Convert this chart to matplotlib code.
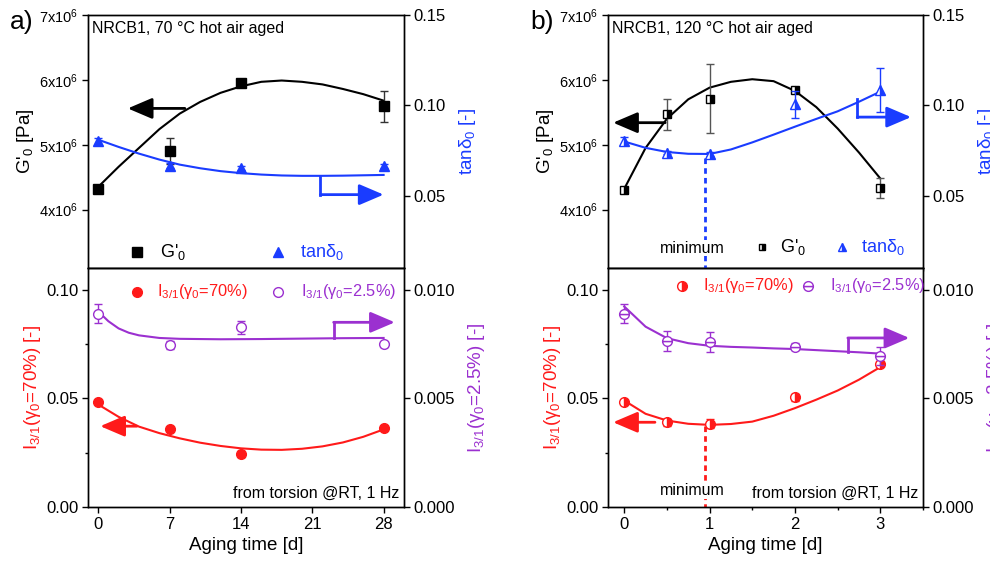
import matplotlib
matplotlib.use("Agg")
import matplotlib.pyplot as plt
from matplotlib.ticker import FixedLocator, MultipleLocator

plt.rcParams['font.family'] = ['Liberation Sans', 'DejaVu Sans']
plt.rcParams['mathtext.fontset'] = 'custom'
plt.rcParams['mathtext.rm'] = 'Liberation Sans'
plt.rcParams['mathtext.it'] = 'Liberation Sans:italic'
plt.rcParams['mathtext.bf'] = 'Liberation Sans:bold'
plt.rcParams['axes.linewidth'] = 1.0

# ---------------- data: panel a (70 °C) ----------------
a_days = [0, 7, 14, 28]
a_G = [4.32e6, 4.91e6, 5.95e6, 5.59e6]
a_G_err = [0.05e6, 0.20e6, 0.03e6, 0.24e6]
a_tan = [0.0800, 0.0667, 0.0652, 0.0663]
a_tan_err = [0.002, 0.0015, 0.001, 0.001]
a_I70 = [0.0483, 0.0361, 0.0244, 0.0363]
a_I70_err = [0.001, 0.0008, 0.0015, 0.0008]
a_I25 = [0.00889, 0.00745, 0.00827, 0.00748]
a_I25_err = [0.00044, 0.0002, 0.0003, 0.0001]

# fitted curves
a_fit_x = [0, 2, 4, 6, 8, 10, 12, 14, 16, 18, 20, 22, 24, 26, 28]
a_fit_G = [4.35e6, 4.66e6, 4.95e6, 5.24e6, 5.48e6, 5.66e6, 5.80e6, 5.90e6,
           5.97e6, 5.99e6, 5.97e6, 5.93e6, 5.86e6, 5.78e6, 5.68e6]
a_fit_tan = [0.0810, 0.0770, 0.0733, 0.0700, 0.0672, 0.0652, 0.0636, 0.0625,
             0.0617, 0.0612, 0.0610, 0.0610, 0.0611, 0.0613, 0.0615]
a_fit_I70 = [0.0472, 0.0415, 0.0370, 0.0340, 0.0316, 0.0296, 0.0281, 0.0270,
             0.0264, 0.0263, 0.0268, 0.0279, 0.0297, 0.0323, 0.0357]
a_fit_x25 = [0, 1, 2, 3, 4, 6, 8, 12, 16, 20, 24, 28]
a_fit_I25 = [0.00900, 0.00855, 0.00822, 0.00802, 0.00790, 0.00778, 0.00774,
             0.00772, 0.00773, 0.00775, 0.00777, 0.00778]

# ---------------- data: panel b (120 °C) ----------------
b_days = [0, 0.5, 1, 2, 3]
b_G = [4.30e6, 5.47e6, 5.71e6, 5.85e6, 4.33e6]
b_G_err = [0.04e6, 0.24e6, 0.53e6, 0.03e6, 0.15e6]
b_tan = [0.0803, 0.0739, 0.0730, 0.1005, 0.1085]
b_tan_err = [0.002, 0.001, 0.001, 0.0075, 0.012]
b_I70 = [0.0482, 0.0390, 0.0384, 0.0505, 0.0659]
b_I70_err = [0.0008, 0.0015, 0.002, 0.0015, 0.0008]
b_I25 = [0.00889, 0.00766, 0.00758, 0.00738, 0.00696]
b_I25_err = [0.00044, 0.00046, 0.00046, 0.00017, 0.00042]

b_fit_x = [0, 0.25, 0.5, 0.75, 1, 1.25, 1.5, 1.75, 2, 2.25, 2.5, 2.75, 3]
b_fit_G = [4.32e6, 4.95e6, 5.40e6, 5.70e6, 5.88e6, 5.97e6, 6.01e6, 5.98e6,
           5.83e6, 5.58e6, 5.25e6, 4.88e6, 4.48e6]
b_fit_tan = [0.0800, 0.0765, 0.0742, 0.0732, 0.0731, 0.0756, 0.0795, 0.0838,
             0.0882, 0.0925, 0.0967, 0.1020, 0.1076]
b_fit_I70 = [0.0490, 0.0429, 0.0398, 0.0383, 0.0378, 0.0382, 0.0393, 0.0420,
             0.0455, 0.0494, 0.0536, 0.0586, 0.0644]
b_fit_I25 = [0.00923, 0.00830, 0.00777, 0.00754, 0.00742, 0.00737, 0.00734,
             0.00730, 0.00727, 0.00722, 0.00717, 0.00712, 0.00706]

a_xticks = [0, 7, 14, 21, 28]
b_xticks = [0, 1, 2, 3]
G_ticks = [4e6, 5e6, 6e6, 7e6]
G_ticklabels = [r'4x10$^6$', r'5x10$^6$', r'6x10$^6$', r'7x10$^6$']
tan_ticks = [0.05, 0.10, 0.15]
I70_ticks = [0.00, 0.05, 0.10]
I25_ticks = [0.000, 0.005, 0.010]

BLUE = '#1a3cff'
RED = '#ff1a1a'
PURPLE = '#9b30d0'
GRAY = '#555555'

fig = plt.figure(figsize=(9.9, 5.63), dpi=100)


def px(x0, x1):
    return x0 / 990, (x1 - x0) / 990


def arrow(ax, start, end, color):
    ax.annotate('', xy=end, xytext=start,
                arrowprops=dict(arrowstyle='-|>,head_length=0.75,head_width=0.32',
                                color=color, lw=2, shrinkA=0, shrinkB=0,
                                mutation_scale=20))


def style_axes(ax):
    ax.tick_params(direction='out', length=4, width=1, labelsize=12, pad=3)
    ax.tick_params(which='minor', direction='out', length=2.5, width=1)


def legend_entry(ax, xm, xt, y, text, tcolor, fs, **mk):
    ax.plot([xm], [y], transform=ax.transAxes, ls='none', clip_on=False,
            zorder=6, **mk)
    ax.text(xt, y, text, transform=ax.transAxes, color=tcolor, fontsize=fs,
            ha='left', va='center', zorder=6)


panels = [
    dict(x0=88, x1=404, xlim=(-1, 30), xticks=a_xticks, days=a_days,
         G=a_G, Ge=a_G_err, tan=a_tan, tane=a_tan_err, I70=a_I70, I70e=a_I70_err,
         I25=a_I25, I25e=a_I25_err, fx=a_fit_x, fG=a_fit_G, ftan=a_fit_tan,
         fI70=a_fit_I70, fx25=a_fit_x25, fI25=a_fit_I25, label='a)',
         title='NRCB1, 70 °C hot air aged'),
    dict(x0=608, x1=923, xlim=(-0.19, 3.5), xticks=b_xticks, days=b_days,
         G=b_G, Ge=b_G_err, tan=b_tan, tane=b_tan_err, I70=b_I70, I70e=b_I70_err,
         I25=b_I25, I25e=b_I25_err, fx=b_fit_x, fG=b_fit_G, ftan=b_fit_tan,
         fI70=b_fit_I70, fx25=b_fit_x, fI25=b_fit_I25, label='b)',
         title='NRCB1, 120 °C hot air aged'),
]

top_b, top_h = 1 - 268 / 563, 253 / 563
bot_b, bot_h = 1 - 507 / 563, 239 / 563

for i, p in enumerate(panels):
    left, width = px(p['x0'], p['x1'])
    axT = fig.add_axes([left, top_b, width, top_h])
    axB = fig.add_axes([left, bot_b, width, bot_h])
    axT2 = axT.twinx()
    axB2 = axB.twinx()
    for ax in (axT, axB, axT2, axB2):
        style_axes(ax)
        ax.set_xlim(*p['xlim'])
        ax.xaxis.set_major_locator(FixedLocator(p['xticks']))
    if i == 1:
        for ax in (axT, axB):
            ax.xaxis.set_minor_locator(MultipleLocator(0.5))
    axT.tick_params(axis='x', labelbottom=False)

    # ---- top: G'0 and tan delta ----
    axT.set_ylim(3.1e6, 7e6)
    axT.set_yticks(G_ticks)
    axT.set_yticklabels(G_ticklabels, fontsize=10.5)
    axT2.set_ylim(0.01, 0.15)
    axT2.set_yticks(tan_ticks)
    axT2.set_yticklabels(['%.2f' % t for t in tan_ticks])

    axT.plot(p['fx'], p['fG'], color='black', lw=1.5, zorder=3)
    axT2.plot(p['fx'], p['ftan'], color=BLUE, lw=1.5, zorder=3)
    if i == 0:
        axT.errorbar(p['days'], p['G'], yerr=p['Ge'], fmt='s', color='black',
                     ms=7, ecolor='#333333', elinewidth=1, capsize=3, zorder=4)
        axT2.errorbar(p['days'], p['tan'], yerr=p['tane'], fmt='^', color=BLUE,
                      ms=7, elinewidth=1, capsize=3, zorder=4)
    else:
        axT.errorbar(p['days'], p['G'], yerr=p['Ge'], fmt='s', color='black',
                     ms=6, fillstyle='right', markerfacecoloralt='white',
                     mec='black', ecolor=GRAY, elinewidth=1, capsize=3, zorder=4)
        axT2.errorbar(p['days'], p['tan'], yerr=p['tane'], fmt='^', color=BLUE,
                      ms=7, fillstyle='right', markerfacecoloralt='white',
                      elinewidth=1, capsize=3, zorder=4)

    axT.set_ylabel("G'$_0$ [Pa]", fontsize=13.5, labelpad=2)
    axT2.set_ylabel(r"tanδ$_0$ [-]", fontsize=13.5, color=BLUE, labelpad=8)

    axT.text(0.012, 0.975, p['title'], transform=axT.transAxes, fontsize=11.5,
             ha='left', va='top')

    # ---- bottom: I3/1 ----
    axB.set_ylim(0, 0.11)
    axB.set_yticks(I70_ticks)
    axB.set_yticklabels(['%.2f' % t for t in I70_ticks])
    axB.yaxis.set_minor_locator(MultipleLocator(0.025))
    axB2.set_ylim(0, 0.011)
    axB2.set_yticks(I25_ticks)
    axB2.set_yticklabels(['%.3f' % t for t in I25_ticks])

    axB.plot(p['fx'], p['fI70'], color=RED, lw=1.5, zorder=3)
    axB2.plot(p['fx25'], p['fI25'], color=PURPLE, lw=1.5, zorder=3)
    if i == 0:
        axB.errorbar(p['days'], p['I70'], yerr=p['I70e'], fmt='o', color=RED,
                     ms=7, elinewidth=1, capsize=3, zorder=4)
        axB2.errorbar(p['days'], p['I25'], yerr=p['I25e'], fmt='o', color=PURPLE,
                      ms=7, mfc='white', elinewidth=1, capsize=3, zorder=4)
    else:
        axB.errorbar(p['days'], p['I70'], yerr=p['I70e'], fmt='o', color=RED,
                     ms=7, fillstyle='right', markerfacecoloralt='white',
                     elinewidth=1, capsize=3, zorder=4)
        axB2.errorbar(p['days'], p['I25'], yerr=p['I25e'], fmt='o', color=PURPLE,
                      ms=7, fillstyle='bottom', mfc='white',
                      markerfacecoloralt='white', elinewidth=1, capsize=3, zorder=4)

    axB.set_xlabel('Aging time [d]', fontsize=13.5, labelpad=4)
    axB.set_ylabel(r'I$_{3/1}$(γ$_0$=70%) [-]', fontsize=13.5, color=RED, labelpad=2)
    axB2.set_ylabel(r'I$_{3/1}$(γ$_0$=2.5%) [-]', fontsize=13.5, color=PURPLE, labelpad=8)
    axB.text(0.985, 0.025, 'from torsion @RT, 1 Hz', transform=axB.transAxes,
             fontsize=11.5, ha='right', va='bottom')

    fig.text((p['x0'] - 78) / 990, 1 - 10 / 563, p['label'], fontsize=19,
             ha='left', va='top')

    # ---- legends (placed by hand as in the reference) ----
    if i == 0:
        legend_entry(axT2, 0.155, 0.228, 0.063, "G'$_0$", 'black', 13,
                     marker='s', color='black', ms=7)
        legend_entry(axT2, 0.601, 0.672, 0.063, r'tanδ$_0$', BLUE, 13,
                     marker='^', color=BLUE, ms=7)
        legend_entry(axB2, 0.155, 0.218, 0.90, r'I$_{3/1}$(γ$_0$=70%)', RED, 11.8,
                     marker='o', color=RED, ms=7)
        legend_entry(axB2, 0.601, 0.675, 0.90, r'I$_{3/1}$(γ$_0$=2.5%)', PURPLE, 11.8,
                     marker='o', color=PURPLE, mfc='white', ms=7)
    else:
        legend_entry(axT2, 0.489, 0.546, 0.083, "G'$_0$", 'black', 13,
                     marker='s', color='black', ms=5, fillstyle='right',
                     markerfacecoloralt='white')
        legend_entry(axT2, 0.743, 0.803, 0.083, r'tanδ$_0$', BLUE, 13,
                     marker='^', color=BLUE, ms=6, fillstyle='right',
                     markerfacecoloralt='white')
        legend_entry(axB2, 0.235, 0.302, 0.925, r'I$_{3/1}$(γ$_0$=70%)', RED, 11.8,
                     marker='o', color=RED, ms=7, fillstyle='right',
                     markerfacecoloralt='white')
        legend_entry(axB2, 0.635, 0.706, 0.925, r'I$_{3/1}$(γ$_0$=2.5%)', PURPLE, 11.8,
                     marker='o', color=PURPLE, ms=7, fillstyle='bottom',
                     mfc='white', markerfacecoloralt='white')

    # ---- arrows and annotations ----
    if i == 0:
        arrow(axT, (8.5, 5.56e6), (2.9, 5.56e6), 'black')
        axT2.plot([21.8, 21.8], [0.0602, 0.0506], color=BLUE, lw=2)
        arrow(axT2, (21.8, 0.0506), (28.0, 0.0506), BLUE)
        arrow(axB, (3.8, 0.0372), (0.2, 0.0372), RED)
        axB2.plot([23.1, 23.1], [0.00778, 0.0085], color=PURPLE, lw=2)
        arrow(axB2, (23.1, 0.0085), (29.1, 0.0085), PURPLE)
    else:
        arrow(axT, (0.48, 5.34e6), (-0.13, 5.34e6), 'black')
        axT2.plot([2.73, 2.73], [0.1033, 0.0935], color=BLUE, lw=2)
        arrow(axT2, (2.73, 0.0935), (3.36, 0.0935), BLUE)
        arrow(axB, (0.36, 0.0390), (-0.13, 0.0390), RED)
        axB2.plot([2.62, 2.62], [0.00712, 0.00778], color=PURPLE, lw=2)
        arrow(axB2, (2.62, 0.00778), (3.34, 0.00778), PURPLE)
        axT2.plot([0.95, 0.95], [0.071, 0.0], color=BLUE, lw=2, ls=(0, (2, 1.5)),
                  zorder=2)
        axB.plot([0.95, 0.95], [0.0375, 0.0], color=RED, lw=2, ls=(0, (2, 1.5)),
                 zorder=2)
        axT2.text(0.8, 0.079, 'minimum', transform=axT2.get_xaxis_transform(),
                  fontsize=11.5, ha='center', va='center', zorder=5,
                  bbox=dict(facecolor='white', edgecolor='none', pad=0.5))
        axB.text(0.8, 0.068, 'minimum', transform=axB.get_xaxis_transform(),
                 fontsize=11.5, ha='center', va='center', zorder=5,
                 bbox=dict(facecolor='white', edgecolor='none', pad=0.5))

fig.savefig('out.png', dpi=100)
